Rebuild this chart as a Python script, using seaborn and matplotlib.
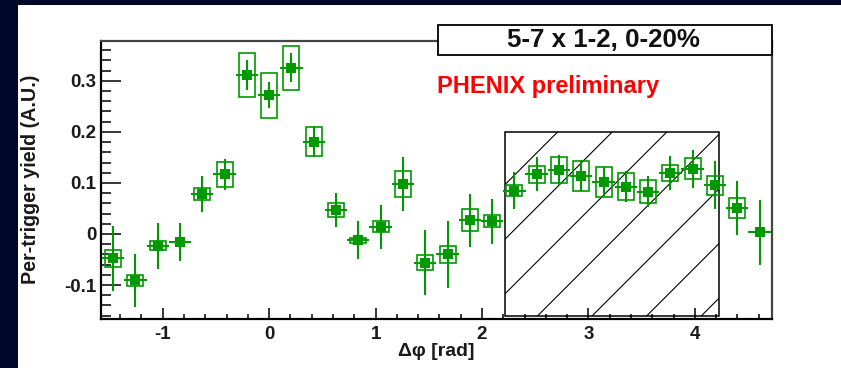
import numpy as np
import pandas as pd
import seaborn as sns
import matplotlib
matplotlib.use("Agg")
import matplotlib.pyplot as plt
from matplotlib.patches import Rectangle
from matplotlib.ticker import FixedLocator, MultipleLocator, FuncFormatter
from matplotlib.transforms import IdentityTransform

# ---- data: per-trigger yield vs delta-phi (bin centres, rad) ----
dphi = [-1.466, -1.257, -1.047, -0.838, -0.628, -0.419, -0.209, 0.000,
        0.209, 0.419, 0.628, 0.838, 1.047, 1.257, 1.466, 1.676,
        1.885, 2.094, 2.304, 2.513, 2.723, 2.932, 3.142, 3.351,
        3.560, 3.770, 3.979, 4.189, 4.398, 4.608]
yield_ = [-0.048, -0.091, -0.023, -0.015, 0.078, 0.117, 0.311, 0.272,
          0.326, 0.181, 0.047, -0.012, 0.014, 0.098, -0.056, -0.040,
          0.027, 0.025, 0.085, 0.117, 0.125, 0.114, 0.102, 0.093,
          0.083, 0.119, 0.128, 0.095, 0.051, 0.003]
stat_err = [0.064, 0.052, 0.045, 0.037, 0.035, 0.030, 0.029, 0.026,
            0.028, 0.031, 0.033, 0.037, 0.043, 0.052, 0.064, 0.066,
            0.052, 0.044, 0.037, 0.033, 0.029, 0.030, 0.030, 0.030,
            0.030, 0.033, 0.037, 0.047, 0.052, 0.064]
syst_err = [0.016, 0.010, 0.0085, 0.0, 0.012, 0.024, 0.043, 0.044,
            0.043, 0.029, 0.013, 0.005, 0.011, 0.025, 0.015, 0.017,
            0.021, 0.012, 0.010, 0.017, 0.025, 0.029, 0.030, 0.026,
            0.023, 0.016, 0.020, 0.018, 0.020, 0.0]
bin_half_width = np.pi / 30
syst_box_half_width = 0.075

# excluded (hatched) region
hatch_x = [2.22, 4.23]
hatch_y = [-0.161, 0.2]

x_ticks = [-1, 0, 1, 2, 3, 4]
y_ticks = [-0.1, 0, 0.1, 0.2, 0.3]
x_range = [-1.585, 4.725]
y_range = [-0.1665, 0.378]

title_text = "5-7 x 1-2, 0-20%"
label_text = "PHENIX preliminary"
x_label = "\u0394\u03c6 [rad]"
y_label = "Per-trigger yield (A.U.)"

df = pd.DataFrame({"dphi": dphi, "yield": yield_,
                   "stat": stat_err, "syst": syst_err})

# ---- style ----
sns.set_theme(style="white")
plt.rcParams["font.family"] = ["Liberation Sans", "DejaVu Sans"]
plt.rcParams["font.weight"] = "bold"
plt.rcParams["axes.unicode_minus"] = False

GREEN = "#009a00"
NAVY = "#00082a"
W, H = 841, 368

fig = plt.figure(figsize=(W / 100, H / 100), dpi=100)
fig.patch.set_facecolor(NAVY)
# white canvas inside the dark frame
fig.patches.append(Rectangle((17.5 / W, 0), 1 - 17.5 / W, 1 - 4.5 / H,
                             transform=fig.transFigure, facecolor="white",
                             edgecolor="none", zorder=-5))

ax = fig.add_axes([100.5 / W, (H - 319) / H, (772 - 100.5) / W, (319 - 41) / H])
ax.set_facecolor("white")
ax.set_xlim(x_range)
ax.set_ylim(y_range)

# hatched region with border
rect = Rectangle((hatch_x[0], hatch_y[0]), hatch_x[1] - hatch_x[0],
                 hatch_y[1] - hatch_y[0], facecolor="none",
                 edgecolor="black", lw=1.1, zorder=2)
ax.add_patch(rect)
clip_rect = Rectangle((hatch_x[0], hatch_y[0]), hatch_x[1] - hatch_x[0],
                      hatch_y[1] - hatch_y[0], transform=ax.transData,
                      facecolor="none", edgecolor="none")
ax.add_patch(clip_rect)
(x0, y0), (x1, y1) = ax.transData.transform([(hatch_x[0], hatch_y[0]),
                                             (hatch_x[1], hatch_y[1])])
spacing = 54.6
c = (x0 - y1) - 2.3
while c < (x1 - y0) + spacing:
    ln = ax.plot([y0 + c, y1 + c], [y0, y1], transform=IdentityTransform(),
                 color="black", lw=0.8, zorder=2)[0]
    ln.set_clip_path(clip_rect)
    c += spacing

# systematic boxes
for xi, yi, si in zip(df["dphi"], df["yield"], df["syst"]):
    if si > 0:
        ax.add_patch(Rectangle((xi - syst_box_half_width, yi - si),
                               2 * syst_box_half_width, 2 * si,
                               facecolor="none", edgecolor=GREEN, lw=1.2,
                               zorder=3))

# statistical error bars
ax.errorbar(df["dphi"], df["yield"], yerr=df["stat"], xerr=bin_half_width,
            fmt="none", ecolor=GREEN, elinewidth=1.5, capsize=0, zorder=4)

# markers
sns.scatterplot(data=df, x="dphi", y="yield", marker="s", s=45, color=GREEN,
                edgecolor=GREEN, linewidth=0, ax=ax, zorder=5, legend=False)

ax.set_xlabel("")
ax.set_ylabel("")

# ticks
ax.xaxis.set_major_locator(FixedLocator(x_ticks))
ax.xaxis.set_minor_locator(MultipleLocator(0.2))
ax.yaxis.set_major_locator(FixedLocator(y_ticks))
ax.yaxis.set_minor_locator(MultipleLocator(0.02))
ax.xaxis.set_major_formatter(FuncFormatter(lambda v, p: f"{v:g}"))
ax.yaxis.set_major_formatter(FuncFormatter(lambda v, p: f"{round(v, 3):g}"))
ax.tick_params(axis="both", which="both", direction="in", top=False,
               right=False, color="black", width=1.1, labelcolor="#1a1a1a",
               labelsize=13.5)
ax.tick_params(axis="y", which="major", length=14.4, pad=3.0, left=True)
ax.tick_params(axis="y", which="minor", length=7.2, left=True)
ax.tick_params(axis="x", which="major", length=7.6, pad=4.8, bottom=True)
ax.tick_params(axis="x", which="minor", length=3.6, bottom=True)
for lab in ax.get_xticklabels() + ax.get_yticklabels():
    lab.set_fontweight("bold")

for side in ["left", "bottom"]:
    ax.spines[side].set_color("black")
    ax.spines[side].set_linewidth(1.6)
for side in ["top", "right"]:
    ax.spines[side].set_color("#444444")
    ax.spines[side].set_linewidth(1.6)

# axis titles
fig.text(436 / W, 1 - 352 / H, x_label, ha="center", va="center",
         fontsize=14, fontweight="bold", color="#1a1a1a")
fig.text(31 / W, 1 - 179 / H, y_label, ha="center", va="center",
         rotation=90, fontsize=14.2, fontweight="bold", color="#1a1a1a")

# title box
fig.patches.append(Rectangle((437.5 / W, 1 - 55 / H), (772 - 437.5) / W,
                             (55 - 24.5) / H, transform=fig.transFigure,
                             facecolor="white", edgecolor="black", lw=1.3,
                             zorder=1))
fig.text(603 / W, 1 - 40 / H, title_text, ha="center", va="center",
         fontsize=18.6, fontweight="bold", color="#111111", zorder=4)

fig.text(437 / W, 1 - 92.5 / H, label_text, ha="left", va="baseline",
         fontsize=17, fontweight="bold", color="#ff0000")

fig.savefig("out.png", dpi=100, facecolor=fig.get_facecolor())
